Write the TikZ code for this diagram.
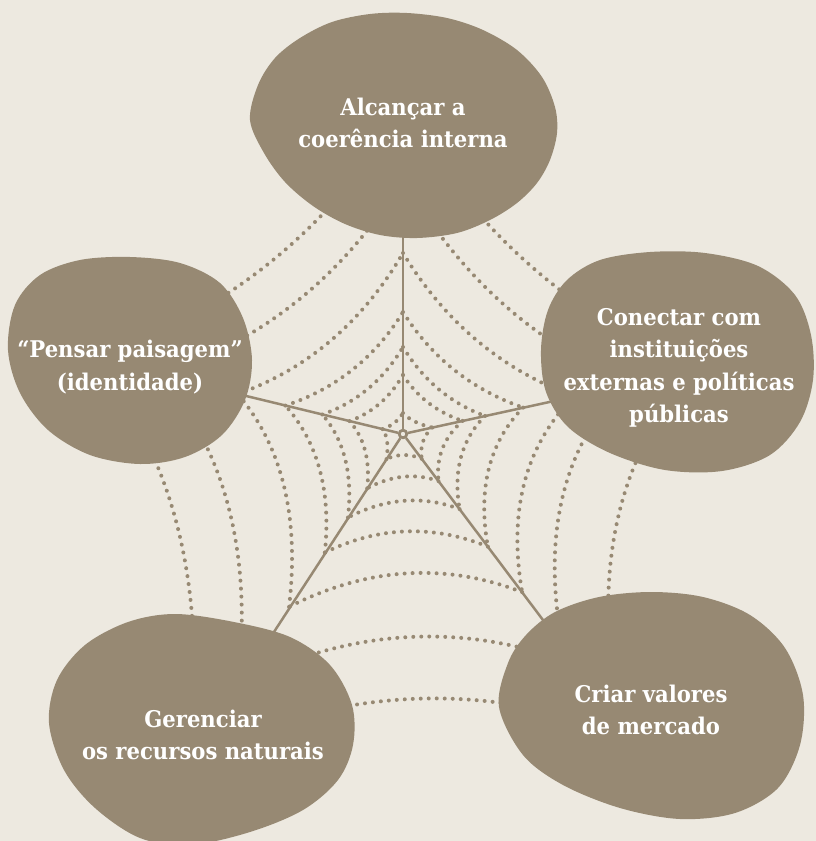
\documentclass[tikz,border=0pt]{standalone}
\usepackage{fontspec}
\usetikzlibrary{calc}
\newfontfamily\lblfont{DejaVu Serif}[FakeStretch=0.92]
\definecolor{bgc}{HTML}{EDE9E0}
\definecolor{blobc}{HTML}{978973}
\begin{document}
\begin{tikzpicture}[x=1pt,y=-1pt,
  web/.style={draw=blobc, line width=4pt, line cap=round, dash pattern=on 0pt off 8pt},
  spoke/.style={draw=blobc, line width=2.5pt},
  blob/.style={fill=blobc},
  hub/.style={circle, draw=blobc, fill=bgc, line width=2.6pt, minimum size=7.5pt, inner sep=0pt},
  lbl/.style={text=white, align=center, inner sep=0pt, font=\lblfont\bfseries\fontsize{23}{32.5}\selectfont}]
\useasboundingbox (0,0) rectangle (816,841);
\fill[bgc] (0,0) rectangle (816,841);
\node[hub] (C) at (403,434) {};
% web arcs
\foreach \ta/\tb/\rl in {
  -90/-12.4/{21/30,59/61,87/84,122/123,181/175,255/235,325/305},
  -12.4/53/{30/31,61/59,84/94,123/141,175/198,225/265,300/360},
  53/123.4/{31/30,59/65,94/100,141/142,198/207,290/300,380/390},
  123.4/193.6/{30/21,65/55,100/83,142/121,207/170,300/250,390/320},
  193.6/270/{21/21,55/59,83/87,121/122,170/181,250/255,320/325}}
{
  \pgfmathsetmacro\tm{(\ta+\tb)/2}
  \foreach \ra/\rb in \rl {
    \pgfmathsetmacro\qq{0.1867*(\ra+\rb)}
    \draw[web] ($(C)+(\ta:\ra)$) .. controls ($(C)+(\ta:{\ra/3})+(\tm:\qq)$) and ($(C)+(\tb:{\rb/3})+(\tm:\qq)$) .. ($(C)+(\tb:\rb)$);
  }
}
% spokes
\coordinate (eT) at (403,230);
\coordinate (eUR) at (554,401);
\coordinate (eLR) at (549,628);
\coordinate (eLL) at (272,635);
\coordinate (eUL) at (238,394);
\foreach \e in {eT,eUR,eLR,eLL,eUL} \draw[spoke] (C) -- (\e);
\node[hub] at (C) {};
% blobs
\fill[blob] plot[smooth cycle, tension=0.55] coordinates {(250,120) (258,85) (275,58) (300,38) (332,22) (370,14) (407,13) (447,18) (483,30) (517,50) (542,77) (555,107) (557,133) (550,160) (537,183) (517,203) (490,220) (457,233) (417,238) (380,235) (345,224) (313,206) (285,182) (264,153)};
\fill[blob] plot[smooth cycle, tension=0.55] coordinates {(8,350) (15,305) (40,275) (80,260) (130,257) (180,263) (220,283) (243,318) (252,360) (245,400) (222,435) (185,457) (140,464) (90,455) (48,430) (20,393)};
\fill[blob] plot[smooth cycle, tension=0.55] coordinates {(541,350) (548,310) (567,280) (600,260) (650,252) (705,253) (758,266) (795,295) (811,335) (813,380) (800,422) (770,455) (722,471) (665,470) (610,453) (568,427) (546,392)};
\fill[blob] plot[smooth cycle, tension=0.55] coordinates {(499,707) (508,663) (526,635) (555,612) (599,597) (651,592) (703,597) (750,615) (785,648) (803,695) (800,745) (778,788) (735,813) (680,819) (620,808) (563,785) (523,755)};
\fill[blob] plot[smooth cycle, tension=0.55] coordinates {(49,723) (57,680) (85,645) (128,622) (175,614) (234,622) (290,637) (330,665) (352,705) (353,745) (338,780) (303,810) (250,832) (190,845) (140,838) (95,808) (64,770)};
% labels
\node[lbl] (tA) at (403,123) {Alcançar a\\coerência interna};
\node[lbl] (tP) at (130,367) {“Pensar paisagem”\\(identidade)};
\node[lbl] (tC) at (679,368) {Conectar com\\instituições\\externas e políticas\\públicas};
\node[lbl] (tV) at (651,710) {Criar valores\\de mercado};
\node[lbl] (tG) at (203,735) {Gerenciar\\os recursos naturais};
\end{tikzpicture}
\end{document}
